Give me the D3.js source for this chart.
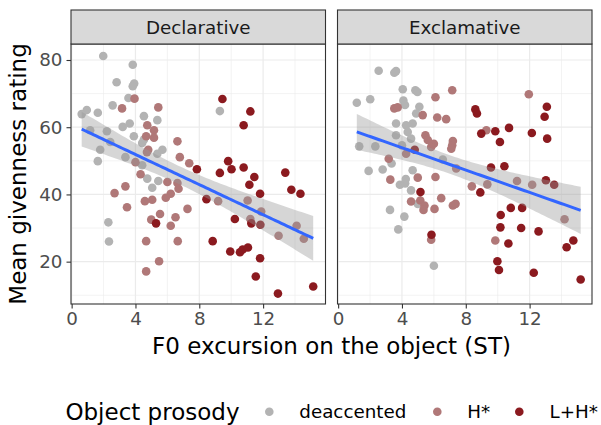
<!DOCTYPE html>
<html>
<head>
<meta charset="utf-8">
<script src="https://cdn.jsdelivr.net/npm/d3@7"></script>
<style>
  body { margin: 0; background: #fff; }
  text { font-family: "DejaVu Sans", sans-serif; }
</style>
</head>
<body>
<script>
// Values: [F0 excursion (ST), mean givenness rating]

var declDeaccented = [[1.98,81.2],[3.83,78.6],[2.82,73.4],[3.92,73.0],[3.83,72.2],[3.56,68.7],[2.57,66.5],[0.95,65.1],
  [0.63,63.9],[1.64,64.3],[4.53,63.3],[5.37,62.1],[3.2,60.1],[3.64,61.1],[1.16,59.1],[2.21,58.8],[3.9,57.3],[4.53,56.3],
  [9.29,64.8],[2.42,55.6],[1.79,53.3],[1.64,49.9],[3.37,51.1],[5.37,52.1],[5.69,53.3],[4.42,48.7],[4.74,44.7],[5.05,42.0],
  [5.43,44.0],[2.30,31.7],[2.34,26.0],[4.42,55.3]];
var declH = [[3.94,68.5],[3.16,65.6],[5.43,65.9],[4.74,60.6],[5.16,59.1],[4.67,57.3],[5.16,56.9],[4.8,53.3],[6.63,55.8],
  [6.78,51.1],[7.37,49.3],[4.0,49.6],[4.32,46.0],[3.37,42.4],[2.69,40.4],[6.0,43.7],[6.63,43.4],[6.7,41.7],[6.21,40.2],
  [5.9,39.0],[5.05,38.4],[4.59,38.0],[3.47,36.2],[7.26,35.7],[5.54,34.2],[4.99,32.5],[6.51,33.2],[6.21,30.7],[4.67,26.1],
  [6.65,26.1],[5.48,20.1],[4.67,17.1],[11.03,38.2],[11.88,34.9],[11.2,32.7],[9.18,38.0],[12.97,27.7],[14.1,30.7],
  [14.55,26.8],[4.72,52.6]];
var declLH = [[9.45,68.4],[11.2,64.7],[10.78,60.6],[9.81,49.9],[7.85,47.5],[9.29,46.4],[10.02,47.5],[10.78,48.0],
  [11.45,45.2],[11.14,42.9],[11.81,40.2],[8.45,38.6],[13.39,46.5],[13.77,41.4],[14.34,40.2],[10.23,32.7],[11.26,31.4],
  [11.83,31.0],[5.29,31.4],[8.84,26.1],[9.94,23.0],[10.55,22.8],[10.72,23.6],[11.05,24.2],[11.81,21.0],[11.54,15.6],
  [12.93,10.5],[15.14,12.6]];

var exclDeaccented = [[2.54,76.8],[3.52,76.2],[3.63,76.7],[4.05,71.3],[4.84,71.0],[4.97,70.5],[1.17,67.3],[2.01,68.3],
  [4.09,67.9],[4.19,66.6],[5.09,66.1],[4.89,64.1],[3.63,61.1],[4.26,60.6],[4.67,61.1],[4.36,58.6],[3.63,57.6],[4.57,56.6],
  [4.0,54.6],[1.32,54.3],[2.33,54.3],[6.56,50.4],[1.91,47.0],[2.79,47.4],[3.35,49.2],[4.67,47.2],[3.87,42.9],[4.2,43.3],
  [4.24,44.6],[4.57,41.2],[4.99,37.2],[3.25,35.4],[4.15,33.4],[3.77,29.6],[6.0,18.8]];
var exclH = [[7.15,71.0],[6.10,68.9],[3.52,65.6],[3.73,65.9],[5.30,63.6],[6.21,62.9],[6.77,62.4],[5.47,57.6],[5.62,56.2],
  [6.0,55.1],[7.19,55.9],[7.15,54.6],[7.09,53.6],[5.83,54.1],[3.17,50.6],[4.26,52.1],[9.29,59.1],[11.95,69.8],[3.27,44.4],
  [4.99,45.0],[6.10,45.2],[4.57,37.9],[5.15,38.2],[5.41,36.7],[5.35,35.4],[6.46,38.9],[6.04,35.7],[7.19,36.7],[7.36,37.2],
  [5.83,26.5],[7.4,47.7],[8.38,42.4],[9.35,43.0],[11.21,44.0],[12.16,42.9],[9.85,26.3],[14.19,32.6]];
var exclLH = [[8.6,65.3],[8.70,64.1],[8.97,58.1],[9.85,58.8],[10.14,55.6],[10.71,59.8],[12.14,58.3],[13.08,66.1],
  [12.94,63.1],[13.1,56.6],[4.8,53.3],[5.16,40.7],[5.85,28.0],[9.58,48.0],[10.42,48.4],[8.91,40.6],[13.02,44.2],
  [13.54,42.9],[10.19,33.9],[10.82,36.0],[11.53,36.0],[10.17,30.2],[11.47,30.0],[12.56,29.0],[10.67,25.4],[9.98,20.1],
  [10.08,17.5],[12.26,16.7],[14.74,26.3],[14.32,24.3],[15.2,14.7]];

var panelNames = ["Declarative", "Exclamative"];
var prosodyLevels = ["deaccented", "H*", "L+H*"];
var prosodyColors = ["#b3b3b3", "#b07878", "#8b1a1f"];
var xTicks = [0, 4, 8, 12];
var xMinor = [2, 6, 10, 14];
var yTicks = [20, 40, 60, 80];
var yMinor = [10, 30, 50, 70];

var panels = [
  { name: panelNames[0], groups: [declDeaccented, declH, declLH] },
  { name: panelNames[1], groups: [exclDeaccented, exclH, exclLH] }
];

//Layout
var width = 601, height = 425;
var panelW = 254.5, panelLeft = [71, 337.5];
var stripTop = 10, panelTop = 44, panelBottom = 304;
var smallFont = 18.3, bigFont = 23;

var svg = d3.select("body").append("svg")
  .attr("width", width)
  .attr("height", height);

var x = d3.scaleLinear().domain([-0.04, 15.91]).range([0, panelW]);
var y = d3.scaleLinear().domain([7.4, 84.76]).range([panelBottom, panelTop]);

// linear fit with 95% confidence band (like geom_smooth(method = "lm"))
function lmFit(pts) {
  var n = pts.length;
  var mx = d3.mean(pts, d => d[0]), my = d3.mean(pts, d => d[1]);
  var sxx = d3.sum(pts, d => (d[0] - mx) * (d[0] - mx));
  var sxy = d3.sum(pts, d => (d[0] - mx) * (d[1] - my));
  var b = sxy / sxx, a = my - b * mx;
  var s2 = d3.sum(pts, d => Math.pow(d[1] - a - b * d[0], 2)) / (n - 2);
  var t = 1.985;
  var ext = d3.extent(pts, d => d[0]);
  var out = d3.range(0, 81).map(function (i) {
    var xv = ext[0] + (ext[1] - ext[0]) * i / 80;
    var fitv = a + b * xv;
    var se = Math.sqrt(s2 * (1 / n + (xv - mx) * (xv - mx) / sxx));
    return { x: xv, y: fitv, lo: fitv - t * se, hi: fitv + t * se };
  });
  return out;
}

panels.forEach(function (p, pi) {
  var g = svg.append("g").attr("transform", `translate(${panelLeft[pi]},0)`);

  // panel background + grid
  g.append("rect").attr("x", 0).attr("y", panelTop).attr("width", panelW)
    .attr("height", panelBottom - panelTop).attr("fill", "#fff");

  g.append("g").selectAll("line").data(xMinor).join("line")
    .attr("x1", d => x(d)).attr("x2", d => x(d))
    .attr("y1", panelTop).attr("y2", panelBottom)
    .attr("stroke", "#ebebeb").attr("stroke-width", 0.6);
  g.append("g").selectAll("line").data(yMinor).join("line")
    .attr("y1", d => y(d)).attr("y2", d => y(d))
    .attr("x1", 0).attr("x2", panelW)
    .attr("stroke", "#ebebeb").attr("stroke-width", 0.6);
  g.append("g").selectAll("line").data(xTicks).join("line")
    .attr("x1", d => x(d)).attr("x2", d => x(d))
    .attr("y1", panelTop).attr("y2", panelBottom)
    .attr("stroke", "#ebebeb").attr("stroke-width", 1.2);
  g.append("g").selectAll("line").data(yTicks).join("line")
    .attr("y1", d => y(d)).attr("y2", d => y(d))
    .attr("x1", 0).attr("x2", panelW)
    .attr("stroke", "#ebebeb").attr("stroke-width", 1.2);

  // points
  p.groups.forEach(function (pts, gi) {
    g.append("g").selectAll("circle").data(pts).join("circle")
      .attr("cx", d => x(d[0]))
      .attr("cy", d => y(d[1]))
      .attr("r", 4.3)
      .attr("fill", prosodyColors[gi]);
  });

  // smooth
  var all = [].concat(p.groups[0], p.groups[1], p.groups[2]);
  var fit = lmFit(all);
  g.append("path").datum(fit)
    .attr("d", d3.area().x(d => x(d.x)).y0(d => y(d.lo)).y1(d => y(d.hi)))
    .attr("fill", "#999999").attr("fill-opacity", 0.4);
  g.append("path").datum(fit)
    .attr("d", d3.line().x(d => x(d.x)).y(d => y(d.y)))
    .attr("fill", "none").attr("stroke", "#3366ff").attr("stroke-width", 3);

  // panel border
  g.append("rect").attr("x", 0).attr("y", panelTop).attr("width", panelW)
    .attr("height", panelBottom - panelTop)
    .attr("fill", "none").attr("stroke", "#333").attr("stroke-width", 1.1);

  // strip
  g.append("rect").attr("x", 0).attr("y", stripTop).attr("width", panelW)
    .attr("height", panelTop - stripTop)
    .attr("fill", "#d9d9d9").attr("stroke", "#333").attr("stroke-width", 1.1);
  g.append("text")
    .attr("x", panelW / 2).attr("y", (stripTop + panelTop) / 2)
    .attr("text-anchor", "middle").attr("dominant-baseline", "central")
    .attr("font-size", smallFont).attr("fill", "#1a1a1a")
    .text(p.name);

  // x axis
  var xAxis = d3.axisBottom(x).tickValues(xTicks).tickSize(4.5).tickPadding(4);
  g.append("g").attr("transform", `translate(0,${panelBottom})`)
    .call(xAxis)
    .call(s => s.select(".domain").remove())
    .call(s => s.selectAll(".tick line").attr("stroke", "#333").attr("stroke-width", 1.1))
    .call(s => s.selectAll(".tick text").attr("font-size", smallFont)
      .attr("font-family", "DejaVu Sans").attr("fill", "#4d4d4d"));

  // y axis only on first panel
  if (pi === 0) {
    var yAxis = d3.axisLeft(y).tickValues(yTicks).tickSize(4.5).tickPadding(4);
    g.append("g")
      .call(yAxis)
      .call(s => s.select(".domain").remove())
      .call(s => s.selectAll(".tick line").attr("stroke", "#333").attr("stroke-width", 1.1))
      .call(s => s.selectAll(".tick text").attr("font-size", smallFont)
        .attr("font-family", "DejaVu Sans").attr("fill", "#4d4d4d"));
  }
});

// axis titles
svg.append("text")
  .attr("x", (panelLeft[0] + panelLeft[1] + panelW) / 2).attr("y", 353.5)
  .attr("text-anchor", "middle").attr("font-size", bigFont).attr("fill", "#000")
  .text("F0 excursion on the object (ST)");

svg.append("text")
  .attr("transform", `translate(26,${(panelTop + panelBottom) / 2}) rotate(-90)`)
  .attr("text-anchor", "middle").attr("font-size", bigFont).attr("fill", "#000")
  .text("Mean givenness rating");

// legend
var legend = svg.append("g");
legend.append("text")
  .attr("x", 65.4).attr("y", 419.5)
  .attr("font-size", bigFont).attr("fill", "#000")
  .text("Object prosody");

var keyX = [269.3, 437.3, 519.3];
var labelX = [299.3, 467.3, 549.5];
prosodyLevels.forEach(function (lev, i) {
  legend.append("circle")
    .attr("cx", keyX[i]).attr("cy", 411.7).attr("r", 4.3)
    .attr("fill", prosodyColors[i]);
  legend.append("text")
    .attr("x", labelX[i]).attr("y", 411.7)
    .attr("dominant-baseline", "central")
    .attr("font-size", smallFont).attr("fill", "#000")
    .text(lev);
});
</script>
</body>
</html>
